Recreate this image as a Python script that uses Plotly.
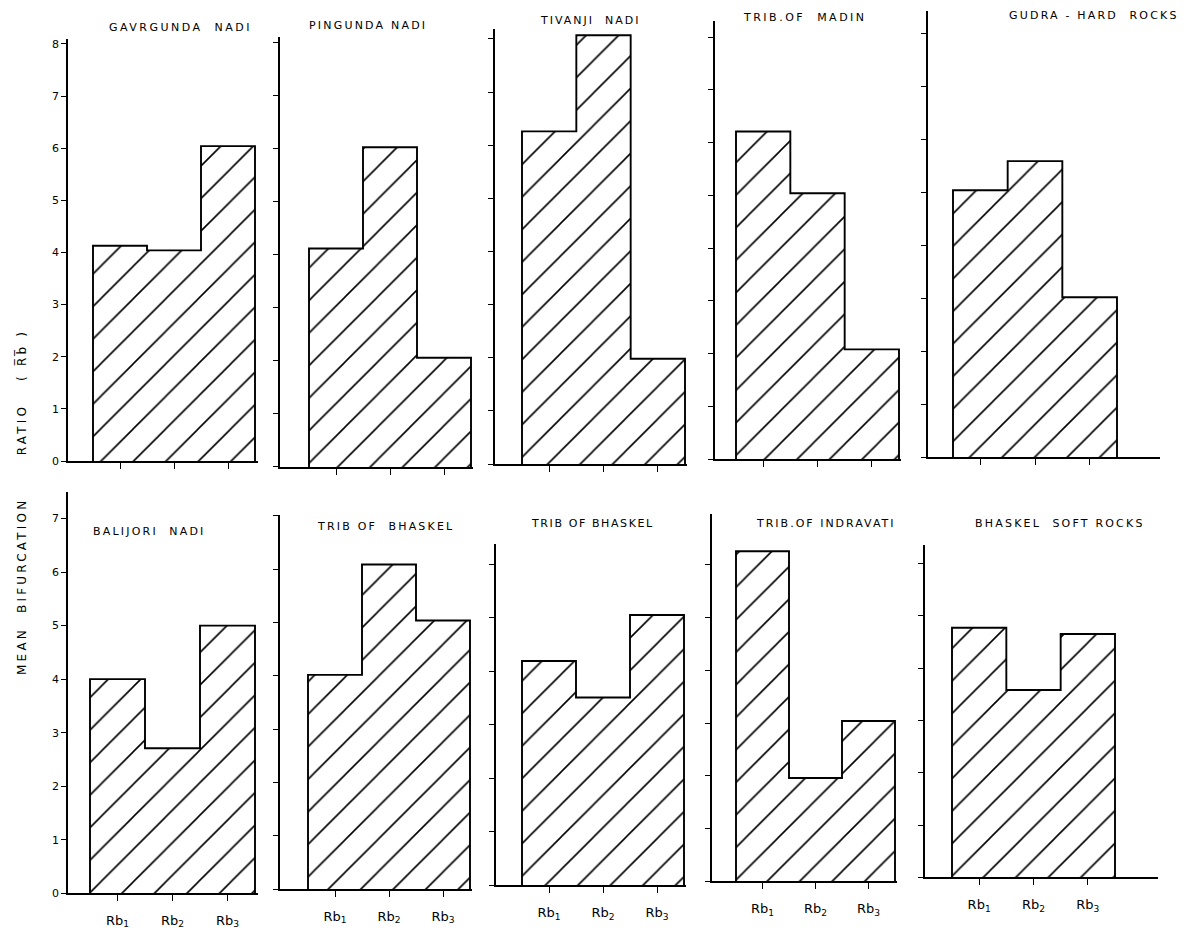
import plotly.graph_objects as go

W, H = 1190, 938
OFF = 8
FW, FH = W - 2 * OFF, H - 2 * OFF

# ---------------- data ----------------
categories = ["Rb<sub>1</sub>", "Rb<sub>2</sub>", "Rb<sub>3</sub>"]
titles = ["GAVRGUNDA  NADI", "PINGUNDA NADI", "TIVANJI  NADI", "TRIB.OF  MADIN",
          "GUDRA - HARD  ROCKS", "BALIJORI  NADI", "TRIB OF  BHASKEL",
          "TRIB OF BHASKEL", "TRIB.OF INDRAVATI", "BHASKEL  SOFT ROCKS"]
gavrgunda = [4.13, 4.04, 6.04]
pingunda = [4.12, 6.03, 2.06]
tivanji = [6.26, 8.07, 1.98]
madin = [6.21, 5.04, 2.08]
gudra = [5.04, 5.59, 3.02]
balijori = [4.0, 2.71, 5.0]
bhaskel_a = [4.02, 6.09, 5.04]
bhaskel_b = [4.19, 3.51, 5.05]
indravati = [6.26, 1.96, 3.04]
bhaskel_soft = [4.77, 3.58, 4.65]
series = [gavrgunda, pingunda, tivanji, madin, gudra,
          balijori, bhaskel_a, bhaskel_b, indravati, bhaskel_soft]
y_tick_values = list(range(0, 9))

# ---------------- layout geometry (reference pixels) ----------------
# axis_x, bar_left, bar_right, right_end, baseline_y, px_per_unit, axis_top_y
geom = [
    (68, 93, 255, 258, 464, 52.6, 38),
    (280, 309, 471, 473, 470, 53.5, 36),
    (495, 522, 685, 687, 467, 53.6, 28),
    (715, 736, 899, 901, 462, 53.2, 20),
    (928, 953, 1117, 1160, 460, 53.4, 10),
    (68, 90, 255, 258, 900, 54.0, 495),
    (280, 308, 470, 472, 896, 53.8, 518),
    (496, 522, 684, 686, 892, 54.0, 548),
    (712, 736, 895, 897, 888, 53.2, 517),
    (925, 952, 1115, 1158, 884, 52.8, 549),
]
title_pos = [(180, 27), (368, 25), (590, 20), (805, 17), (1094, 15),
             (149, 535), (385, 530), (592, 527), (826, 527), (1060, 527)]
title_spacing = [2.5, 2.2, 2.0, 2.5, 2.2, 2.2, 2.2, 1.6, 2.0, 2.2]

FONT = "DejaVu Sans"


def px(x):
    return (x - OFF) / FW


def py(y):
    return 1 - (y - OFF) / FH


def spaced(t, s):
    return f'<span style="letter-spacing:{s}px">{t}</span>'


fig = go.Figure()

for i, (vals, g) in enumerate(zip(series, geom)):
    k = i + 1
    ax, bl, br, re, base, unit, top = g
    ppx = (br - bl) / 3.0
    x0 = 0.5 - (bl - ax) / ppx
    x1 = 3.5 + (re - br) / ppx
    ytop = (base - top) / unit
    xa = "x" if k == 1 else f"x{k}"
    ya = "y" if k == 1 else f"y{k}"

    fig.add_trace(go.Bar(
        x=[1, 2, 3], y=vals, width=1, xaxis=xa, yaxis=ya,
        marker=dict(color="white", line=dict(width=0),
                    pattern=dict(shape="/", size=23, solidity=0.07,
                                 fgcolor="#000000", fgopacity=1,
                                 bgcolor="white", fillmode="overlay")),
        showlegend=False, hoverinfo="skip"))

    # stepped outline built from the values
    ox, oy = [0.5], [0]
    for j, v in enumerate(vals):
        ox += [j + 0.5, j + 1.5]
        oy += [v, v]
    ox += [3.5]
    oy += [0]
    fig.add_trace(go.Scatter(x=ox, y=oy, mode="lines", xaxis=xa, yaxis=ya,
                             line=dict(color="black", width=1.9),
                             showlegend=False, hoverinfo="skip"))

    bottom_row = k > 5
    show_ylab = k in (1, 6)
    fig.layout[f"xaxis{'' if k == 1 else k}"] = dict(
        domain=[px(ax), px(re)], range=[x0, x1], anchor=ya,
        tickmode="array", tickvals=[1, 2, 3],
        ticktext=categories if bottom_row else ["", "", ""],
        showticklabels=bottom_row, ticks="outside", ticklen=6, tickwidth=1.4,
        tickcolor="black", showline=True, linecolor="black", linewidth=1.7,
        showgrid=False, zeroline=False, fixedrange=True, ticklabelstandoff=8,
        tickfont=dict(family=FONT, size=13, color="black"))
    fig.layout[f"yaxis{'' if k == 1 else k}"] = dict(
        domain=[py(base), py(top)], range=[0, ytop], anchor=xa,
        tickmode="array", tickvals=[v for v in y_tick_values if v <= ytop],
        showticklabels=show_ylab, ticks="outside", ticklen=5, tickwidth=1.4,
        tickcolor="black", showline=True, linecolor="black", linewidth=1.7,
        showgrid=False, zeroline=False, fixedrange=True,
        tickfont=dict(family=FONT, size=11, color="black"))

    tx, ty = title_pos[i]
    fig.add_annotation(x=px(tx), y=py(ty), xref="paper", yref="paper",
                       text=spaced(titles[i], title_spacing[i]), showarrow=False,
                       xanchor="center", yanchor="middle",
                       font=dict(family=FONT, size=11, color="black"))

# y-axis title pieces
for txt, yc in [("MEAN  BIFURCATION", 591), ("RATIO", 433), ("( R\u0305b\u0305 )", 357)]:
    fig.add_annotation(x=px(22), y=py(yc), xref="paper", yref="paper",
                       text=spaced(txt, 3.2), textangle=-90, showarrow=False,
                       xanchor="center", yanchor="middle",
                       font=dict(family=FONT, size=12, color="black"))

fig.update_layout(width=FW, height=FH, margin=dict(l=0, r=0, t=0, b=0),
                  paper_bgcolor="white", plot_bgcolor="white",
                  barmode="overlay", bargap=0, showlegend=False)

fig.write_html("out.html")
